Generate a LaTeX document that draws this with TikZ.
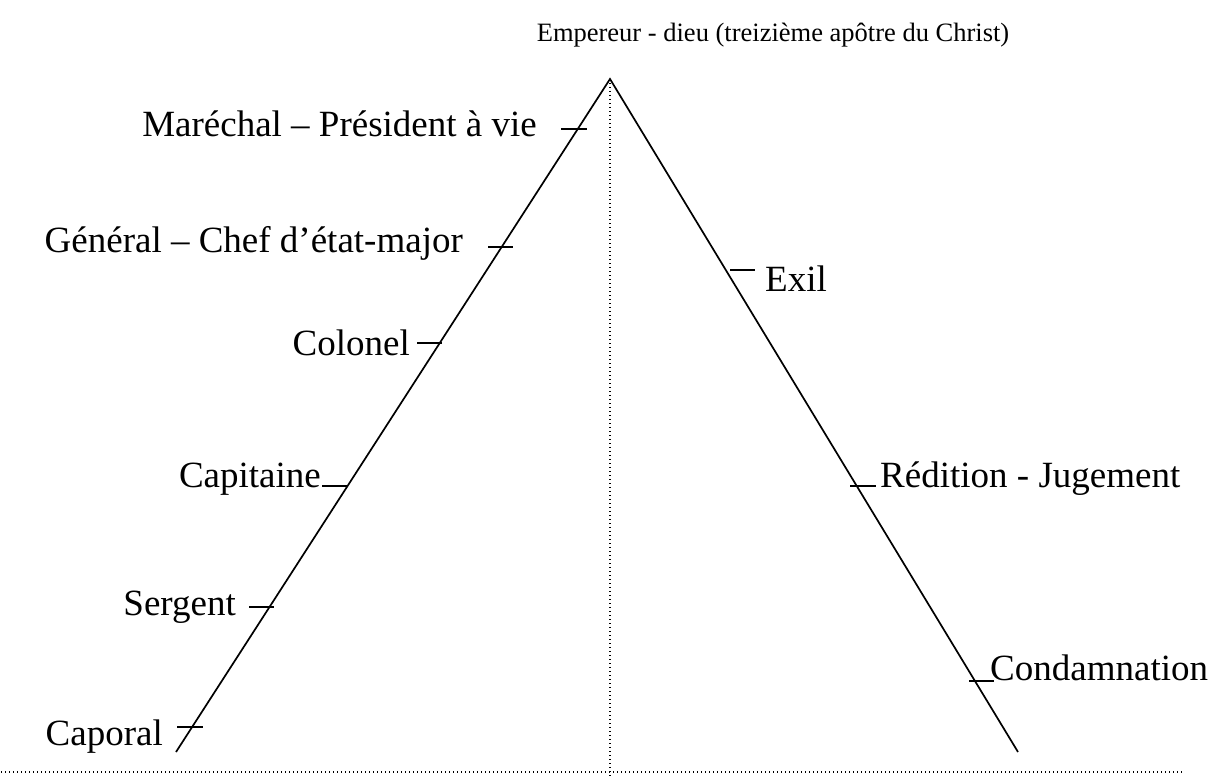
\documentclass[tikz,border=0pt]{standalone}
\usepackage{fontspec}
\setmainfont{Liberation Serif}
\begin{document}
\begin{tikzpicture}[x=1pt,y=-1pt,
  edge/.style={line width=1.7pt},
  tickmark/.style={line width=1.5pt},
  guide/.style={line width=1.3pt, dash pattern=on 1.3pt off 2.7pt},
  lbl/.style={inner sep=0pt, font=\fontsize{37}{44}\selectfont},
  ttl/.style={inner sep=0pt, font=\fontsize{26.5}{32}\selectfont}]
\useasboundingbox (0,0) rectangle (1222,778);

% pyramid frame
\coordinate (apex) at (610,79);
\coordinate (lfoot) at (176,752);
\coordinate (rfoot) at (1018,752);
\coordinate (axisfoot) at (610,776);
\coordinate (groundL) at (1,772);
\coordinate (groundR) at (1183,772);
\draw[edge] (lfoot) -- (apex) -- (rfoot);
\draw[guide] (apex) -- (axisfoot);
\draw[guide] (groundL) -- (groundR);

% rank marks on both slopes
\foreach \n/\xa/\xb/\y in {mar/561/587/129, gen/488/513/247, col/417/442/343,
    cap/322/347/486, ser/249/274/607, cpl/177/203/727,
    exi/730/755/270, red/850/876/486, con/969/994/681}{
  \coordinate (\n-a) at (\xa,\y);
  \coordinate (\n-b) at (\xb,\y);
  \draw[tickmark] (\n-a) -- (\n-b);
}

% title
\node[ttl, anchor=base] (title) at (773,42) {Empereur - dieu (treizième apôtre du Christ)};

% ascending ranks
\node[lbl, anchor=base east] (marechal) at (537,137) {Maréchal – Président à vie};
\node[lbl, anchor=base east] (general) at (463,252) {Général – Chef d’état-major};
\node[lbl, anchor=base east] (colonel) at (410,355) {Colonel};
\node[lbl, anchor=base east] (capitaine) at (321,487) {Capitaine};
\node[lbl, anchor=base east] (sergent) at (236,615) {Sergent};
\node[lbl, anchor=base east] (caporal) at (163,745) {Caporal};

% descending fate
\node[lbl, anchor=base west] (exil) at (765,291) {Exil};
\node[lbl, anchor=base west] (redition) at (880,487) {Rédition - Jugement};
\node[lbl, anchor=base west] (condamnation) at (990,680) {Condamnation};
\end{tikzpicture}
\end{document}
